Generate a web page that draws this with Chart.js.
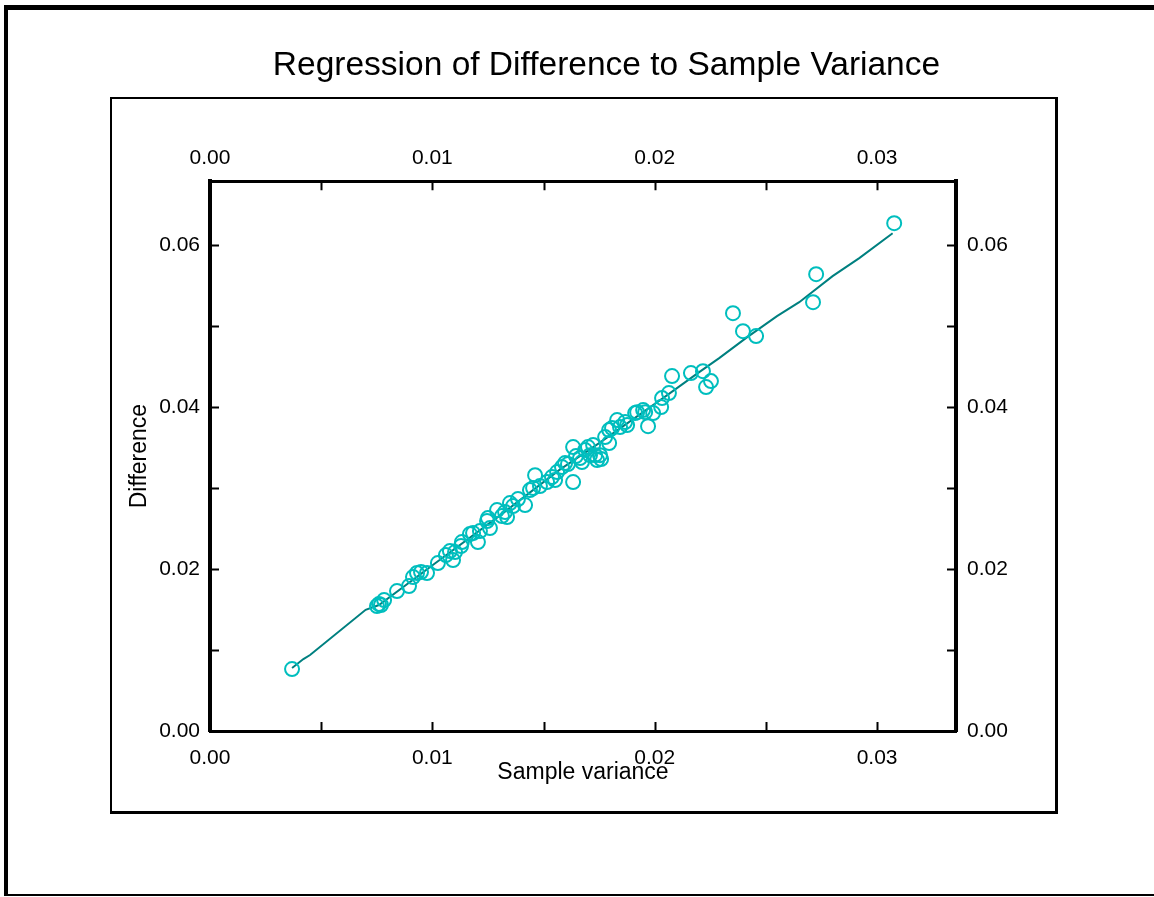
<!DOCTYPE html>
<html>
<head>
<meta charset="utf-8">
<script src="https://cdn.jsdelivr.net/npm/chart.js@4/dist/chart.umd.min.js"></script>
<style>
  html, body { margin: 0; padding: 0; background: #fff; }
  #wrap { position: relative; width: 1154px; height: 897px; }
</style>
</head>
<body>
<div id="wrap"><canvas id="c" width="1154" height="897"></canvas></div>
<script>
// ---- data ----
const sampleVariance = [
  0.00369, 0.00751, 0.00760, 0.00769, 0.00783, 0.00841, 0.00895, 0.00913, 0.00931, 0.00949,
  0.00976, 0.01025, 0.01061, 0.01079, 0.01093, 0.01102, 0.01129, 0.01133, 0.01169, 0.01183,
  0.01205, 0.01214, 0.01246, 0.01250, 0.01259, 0.01291, 0.01313, 0.01327, 0.01336, 0.01349,
  0.01363, 0.01385, 0.01417, 0.01439, 0.01453, 0.01462, 0.01484, 0.01516, 0.01538, 0.01552,
  0.01561, 0.01583, 0.01597, 0.01610, 0.01633, 0.01633, 0.01646, 0.01664, 0.01673, 0.01687,
  0.01700, 0.01709, 0.01723, 0.01732, 0.01741, 0.01754, 0.01759, 0.01777, 0.01795, 0.01795,
  0.01808, 0.01831, 0.01844, 0.01867, 0.01876, 0.01912, 0.01921, 0.01948, 0.01957, 0.01970,
  0.01993, 0.02029, 0.02033, 0.02064, 0.02078, 0.02163, 0.02217, 0.02231, 0.02253, 0.02352,
  0.02397, 0.02456, 0.02712, 0.02726, 0.03077
];
const difference = [
  0.00765, 0.01543, 0.01568, 0.01556, 0.01617, 0.01728, 0.01790, 0.01901, 0.01951, 0.01963,
  0.01951, 0.02074, 0.02173, 0.02222, 0.02111, 0.02210, 0.02284, 0.02333, 0.02432, 0.02444,
  0.02333, 0.02469, 0.02593, 0.02630, 0.02506, 0.02728, 0.02654, 0.02704, 0.02642, 0.02815,
  0.02778, 0.02864, 0.02790, 0.02975, 0.03000, 0.03160, 0.03025, 0.03074, 0.03136, 0.03099,
  0.03198, 0.03259, 0.03309, 0.03296, 0.03074, 0.03506, 0.03395, 0.03370, 0.03321, 0.03469,
  0.03506, 0.03407, 0.03531, 0.03407, 0.03346, 0.03407, 0.03358, 0.03630, 0.03716, 0.03556,
  0.03741, 0.03840, 0.03753, 0.03815, 0.03778, 0.03926, 0.03938, 0.03963, 0.03938, 0.03765,
  0.03926, 0.04000, 0.04111, 0.04173, 0.04383, 0.04420, 0.04444, 0.04247, 0.04321, 0.05160,
  0.04938, 0.04877, 0.05296, 0.05642, 0.06272
];
const fitVariance = [0.00369, 0.00420, 0.00450, 0.00700, 0.00760, 0.00990, 0.01300, 0.01570, 0.01750,
  0.02050, 0.02200, 0.02290, 0.02410, 0.02550, 0.02650, 0.02800, 0.02920, 0.03070];
const fitDifference = [0.00778, 0.00889, 0.00938, 0.01497, 0.01556, 0.02025, 0.02654, 0.03222, 0.03556,
  0.04136, 0.04432, 0.04605, 0.04852, 0.05123, 0.05296, 0.05617, 0.05840, 0.06148];
const xTickLabels = ['0.00', '0.01', '0.02', '0.03'];
const yTickLabels = ['0.00', '0.02', '0.04', '0.06'];
const titleText = 'Regression of Difference to Sample Variance';
const xTitle = 'Sample variance';
const yTitle = 'Difference';

const X_MIN = 0, X_MAX = 0.03355, X_STEP = 0.005;
const Y_MIN = 0, Y_MAX = 0.0679, Y_STEP = 0.01;

const FONT = '"Liberation Sans", Arial, Helvetica, sans-serif';

function labelFor(v, list) {
  const s = v.toFixed(2);
  return list.includes(s) && Math.abs(v * 100 - Math.round(v * 100)) < 1e-6 ? s : '';
}

const framePlugin = {
  id: 'frame',
  beforeDraw(chart) {
    const ctx = chart.ctx;
    ctx.save();
    ctx.fillStyle = '#fff';
    ctx.fillRect(0, 0, chart.width, chart.height);
    ctx.fillStyle = '#000';
    // outer frame
    ctx.fillRect(4, 5, 1150, 5);
    ctx.fillRect(4, 5, 4, 891);
    ctx.fillRect(4, 894, 1150, 2);
    // inner box
    ctx.fillRect(110, 97, 947, 2);
    ctx.fillRect(110, 97, 2, 717);
    ctx.fillRect(110, 811, 948, 3);
    ctx.fillRect(1055, 97, 3, 717);
    ctx.restore();
  },
  afterDatasetsDraw(chart) {
    const ctx = chart.ctx;
    const a = chart.chartArea;
    const L = 9;
    ctx.save();
    ctx.strokeStyle = '#000';
    ctx.lineWidth = 2;
    ctx.beginPath();
    for (const id of ['x', 'x2']) {
      const s = chart.scales[id];
      s.ticks.forEach(t => {
        const px = Math.round(s.getPixelForValue(t.value)) + 0.5;
        if (id === 'x') { ctx.moveTo(px, a.bottom); ctx.lineTo(px, a.bottom - L); }
        else { ctx.moveTo(px, a.top); ctx.lineTo(px, a.top + L); }
      });
    }
    for (const id of ['y', 'y2']) {
      const s = chart.scales[id];
      s.ticks.forEach(t => {
        const py = Math.round(s.getPixelForValue(t.value)) + 0.5;
        if (id === 'y') { ctx.moveTo(a.left, py); ctx.lineTo(a.left + L, py); }
        else { ctx.moveTo(a.right, py); ctx.lineTo(a.right - L, py); }
      });
    }
    ctx.stroke();
    ctx.restore();
  }
};

const tickFont = { family: FONT, size: 21 };
const titleFont = { family: FONT, size: 23 };

function xScale(position, fitH, pad, withTitle) {
  return {
    type: 'linear', position, min: X_MIN, max: X_MAX,
    grid: { display: false, drawTicks: false },
    border: { display: true, color: '#000', width: 3 },
    ticks: {
      stepSize: X_STEP, includeBounds: false, autoSkip: false, maxRotation: 0,
      padding: pad, color: '#000', font: tickFont,
      callback: v => labelFor(v, xTickLabels)
    },
    title: withTitle ? { display: true, text: xTitle, color: '#000', font: titleFont, padding: 0 } : { display: false },
    afterFit: s => { s.height = fitH; }
  };
}
function yScale(position, fitW, pad, withTitle) {
  return {
    type: 'linear', position, min: Y_MIN, max: Y_MAX,
    grid: { display: false, drawTicks: false },
    border: { display: true, color: '#000', width: 4 },
    ticks: {
      stepSize: Y_STEP, includeBounds: false, autoSkip: false,
      padding: pad, color: '#000', font: tickFont,
      callback: v => labelFor(v, yTickLabels)
    },
    title: withTitle ? { display: true, text: yTitle, color: '#000', font: titleFont, padding: 0 } : { display: false },
    afterFit: s => { s.width = fitW; }
  };
}

new Chart(document.getElementById('c'), {
  type: 'scatter',
  data: {
    datasets: [
      {
        type: 'line',
        label: 'Fit',
        data: fitVariance.map((x, i) => ({ x, y: fitDifference[i] })),
        borderColor: '#008080',
        borderWidth: 2,
        pointRadius: 0,
        fill: false,
        tension: 0,
        order: 2
      },
      {
        label: 'Difference',
        data: sampleVariance.map((x, i) => ({ x, y: difference[i] })),
        backgroundColor: 'rgba(0,0,0,0)',
        borderColor: '#00BEBE',
        borderWidth: 2,
        pointRadius: 7,
        pointStyle: 'circle',
        order: 1
      }
    ]
  },
  options: {
    responsive: false,
    animation: false,
    devicePixelRatio: 1,
    layout: { padding: { left: 126, right: 67, top: 0, bottom: 111 } },
    plugins: {
      legend: { display: false },
      tooltip: { enabled: false },
      title: {
        display: true, text: titleText, color: '#000',
        font: { family: FONT, size: 33.5, weight: 'normal' },
        padding: { top: 46, bottom: 7 }
      }
    },
    scales: {
      x: xScale('bottom', 55, 15, true),
      x2: xScale('top', 88, 10, false),
      y: yScale('left', 84, 10, true),
      y2: yScale('right', 131, 11, false)
    }
  },
  plugins: [framePlugin]
});
</script>
</body>
</html>
